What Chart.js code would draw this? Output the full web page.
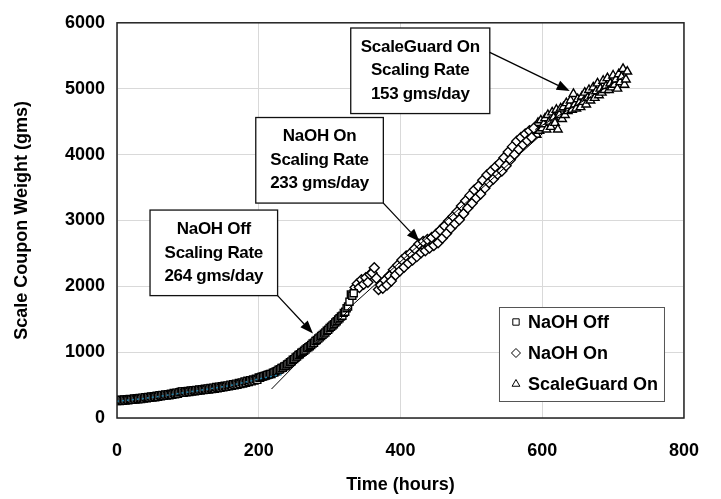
<!DOCTYPE html>
<html>
<head>
<meta charset="utf-8">
<script src="https://cdn.jsdelivr.net/npm/chart.js@4.4.1/dist/chart.umd.min.js"></script>
<style>
    html, body { margin: 0; padding: 0; background: #fff; }
</style>
</head>
<body>
<canvas id="chartCanvas" width="721" height="499"></canvas>
<script>
// 系列名稱
const seriesNames = ['NaOH Off', 'NaOH On', 'ScaleGuard On'];

// NaOH Off（每 2 小時）
const offHours = [0, 2, 4, 6, 8, 10, 12, 14, 16, 18, 20, 22, 24, 26, 28, 30, 32, 34, 36, 38,
    40, 42, 44, 46, 48, 50, 52, 54, 56, 58, 60, 62, 64, 66, 68, 70, 72, 74, 76, 78,
    80, 82, 84, 86, 88, 90, 92, 94, 96, 98, 100, 102, 104, 106, 108, 110, 112, 114, 116, 118,
    120, 122, 124, 126, 128, 130, 132, 134, 136, 138, 140, 142, 144, 146, 148, 150, 152, 154, 156, 158,
    160, 162, 164, 166, 168, 170, 172, 174, 176, 178, 180, 182, 184, 186, 188, 190, 192, 194, 196, 198,
    200, 202, 204, 206, 208, 210, 212, 214, 216, 218, 220, 222, 224, 226, 228, 230, 232, 234, 236, 238,
    240, 242, 244, 246, 248, 250, 252, 254, 256, 258, 260, 262, 264, 266, 268, 270, 272, 274, 276, 278,
    280, 282, 284, 286, 288, 290, 292, 294, 296, 298, 300, 302, 304, 306, 308, 310, 312, 314, 316, 318,
    320, 322, 324, 326, 328, 330, 332, 334];
const offWeight = [258, 272, 256, 276, 262, 280, 266, 285, 270, 289, 285, 275, 296, 281, 300, 285, 304, 290, 309, 294,
    316, 300, 320, 306, 326, 311, 331, 316, 337, 322, 346, 330, 351, 337, 356, 342, 362, 347, 368, 354,
    378, 362, 384, 369, 390, 398, 403, 384, 406, 390, 411, 396, 416, 401, 422, 406, 426, 412, 432, 417,
    438, 423, 443, 429, 449, 434, 454, 440, 460, 445, 472, 452, 476, 459, 482, 466, 488, 473, 495, 480,
    506, 488, 514, 497, 522, 506, 531, 515, 541, 525, 554, 536, 564, 547, 574, 557, 585, 568, 596, 580,
    614, 612, 626, 630, 638, 644, 654, 660, 668, 669, 686, 692, 708, 712, 731, 739, 758, 764, 784, 789,
    811, 824, 846, 859, 884, 894, 918, 934, 956, 969, 991, 1004, 1021, 1039, 1061, 1074, 1091, 1109, 1131, 1144,
    1171, 1184, 1206, 1224, 1246, 1262, 1281, 1299, 1326, 1339, 1366, 1384, 1406, 1424, 1451, 1469, 1496, 1514, 1541, 1554,
    1596, 1614, 1666, 1694, 1766, 1874, 1856, 1894];

// NaOH On（每 3 小時）
const onHours = [336, 339, 342, 345, 348, 351, 354, 357, 360, 363, 366, 369, 372, 375, 378, 381, 384, 387, 390, 393,
    396, 399, 402, 405, 408, 411, 414, 417, 420, 423, 426, 429, 432, 435, 438, 441, 444, 447, 450, 453,
    456, 459, 462, 465, 468, 471, 474, 477, 480, 483, 486, 489, 492, 495, 498, 501, 504, 507, 510, 513,
    516, 519, 522, 525, 528, 531, 534, 537, 540, 543, 546, 549, 552, 555, 558, 561, 564, 567, 570, 573,
    576, 579, 582, 585, 588];
const onWeight = [1980, 2040, 1980, 2100, 2030, 2130, 2060, 2180, 2200, 2280, 2120, 1950, 2020, 1970, 2090, 2020, 2160, 2080, 2250, 2170,
    2320, 2230, 2400, 2290, 2460, 2350, 2500, 2400, 2570, 2450, 2640, 2510, 2680, 2540, 2710, 2580, 2740, 2620, 2790, 2660,
    2850, 2730, 2920, 2800, 2990, 2880, 3060, 2950, 3130, 3010, 3220, 3100, 3300, 3190, 3380, 3260, 3460, 3340, 3520, 3400,
    3610, 3490, 3690, 3570, 3750, 3630, 3810, 3700, 3870, 3750, 3950, 3830, 4040, 3920, 4120, 4000, 4200, 4080, 4260, 4150,
    4310, 4210, 4360, 4260, 4400];

// ScaleGuard On（每 2 小時）
const sgHours = [590, 592, 594, 596, 598, 600, 602, 604, 606, 608, 610, 612, 614, 616, 618, 620, 622, 624, 626, 628,
    630, 632, 634, 636, 638, 640, 642, 644, 646, 648, 650, 652, 654, 656, 658, 660, 662, 664, 666, 668,
    670, 672, 674, 676, 678, 680, 682, 684, 686, 688, 690, 692, 694, 696, 698, 700, 702, 704, 706, 708,
    710, 712, 714, 716, 718, 720];
const sgWeight = [4420, 4300, 4480, 4360, 4520, 4400, 4460, 4550, 4380, 4600, 4500, 4420, 4640, 4560, 4480, 4680, 4380, 4600, 4700, 4540,
    4720, 4600, 4780, 4660, 4740, 4820, 4680, 4920, 4760, 4700, 4840, 4780, 4720, 4880, 4800, 4940, 4760, 4860, 4980, 4820,
    4900, 5020, 4860, 4960, 5080, 4900, 5000, 4940, 5120, 4980, 5040, 5160, 4980, 5080, 5020, 5200, 5060, 5140, 5000, 5220,
    5100, 5180, 5300, 5060, 5140, 5260];

// 早期點線（藍綠色）
const dotHours = [0, 40, 80, 120, 160, 200, 232];
const dotWeight = [255, 300, 362, 425, 495, 592, 662];

// 趨勢線（起點、終點）
const fitOffHours = [218, 330];
const fitOffWeight = [440, 1670];
const fitOnHours = [325, 600];
const fitOnWeight = [1645, 4315];
const fitSgHours = [590, 720];
const fitSgWeight = [4380, 5210];

// 座標軸刻度
const xTicks = [0, 200, 400, 600, 800];
const yTicks = [0, 1000, 2000, 3000, 4000, 5000, 6000];

// 標註文字與位置（資料座標）
const noteLines = [
    ['NaOH Off', 'Scaling Rate', '264 gms/day'],
    ['NaOH On', 'Scaling Rate', '233 gms/day'],
    ['ScaleGuard On', 'Scaling Rate', '153 gms/day']
];
const noteBoxes = [
    { x0: 46.6, x1: 226.6, y0: 3157, y1: 1858 },
    { x0: 195.8, x1: 375.8, y0: 4562, y1: 3263 },
    { x0: 329.8, x1: 526, y0: 5921, y1: 4622 }
];
const noteArrows = [
    { fx: 226.6, fy: 1858, tx: 276.5, ty: 1284 },
    { fx: 375.8, fy: 3263, tx: 426.8, ty: 2678 },
    { fx: 526, fy: 5550, tx: 638.8, ty: 4965 }
];

const pointStyles = ['rect', 'rectRot', 'triangle'];
const FONT = '"Liberation Sans", Arial, sans-serif';

function toPoints(xs, ys) {
    return xs.map((x, i) => ({ x: x, y: ys[i] }));
}

function markerSet(label, xs, ys, style) {
    return {
        type: 'scatter',
        label: label,
        data: toPoints(xs, ys),
        pointStyle: style,
        pointRadius: 5,
        pointBorderWidth: 1.4,
        pointBorderColor: '#000',
        pointBackgroundColor: '#fff',
        showLine: false,
        order: 2
    };
}

function lineSet(xs, ys, color, dash, width) {
    return {
        type: 'line',
        label: '',
        data: toPoints(xs, ys),
        borderColor: color,
        borderWidth: width,
        borderDash: dash,
        pointRadius: 0,
        cubicInterpolationMode: 'monotone',
        fill: false,
        order: 0
    };
}

// 畫箭頭
function drawArrow(ctx, x1, y1, x2, y2) {
    const ang = Math.atan2(y2 - y1, x2 - x1);
    const len = 13, half = 5;
    const c = Math.cos(ang), s = Math.sin(ang);
    ctx.beginPath();
    ctx.moveTo(x1, y1);
    ctx.lineTo(x2 - c * len, y2 - s * len);
    ctx.stroke();
    ctx.beginPath();
    ctx.moveTo(x2, y2);
    ctx.lineTo(x2 - c * len + s * half, y2 - s * len - c * half);
    ctx.lineTo(x2 - c * len - s * half, y2 - s * len + c * half);
    ctx.closePath();
    ctx.fill();
}

// 外框、標註方塊與圖例
const decorPlugin = {
    id: 'decor',
    afterDatasetsDraw(chart) {
        const ctx = chart.ctx;
        const area = chart.chartArea;
        const xs = chart.scales.x, ys = chart.scales.y;
        ctx.save();

        // 繪圖區外框
        ctx.strokeStyle = '#222';
        ctx.lineWidth = 1.5;
        ctx.strokeRect(area.left, area.top, area.right - area.left, area.bottom - area.top);

        // 標註
        ctx.font = 'bold 17px ' + FONT;
        ctx.textAlign = 'center';
        ctx.textBaseline = 'middle';
        if ('letterSpacing' in ctx) ctx.letterSpacing = '-0.3px';
        noteBoxes.forEach((b, i) => {
            const l = xs.getPixelForValue(b.x0), r = xs.getPixelForValue(b.x1);
            const t = ys.getPixelForValue(b.y0), btm = ys.getPixelForValue(b.y1);
            ctx.fillStyle = '#fff';
            ctx.fillRect(l, t, r - l, btm - t);
            ctx.strokeStyle = '#111';
            ctx.lineWidth = 1.3;
            ctx.strokeRect(l, t, r - l, btm - t);
            ctx.fillStyle = '#000';
            const cx = (l + r) / 2, cy = (t + btm) / 2;
            noteLines[i].forEach((txt, k) => {
                ctx.fillText(txt, cx, cy + (k - 1) * 23.5);
            });
            const a = noteArrows[i];
            ctx.strokeStyle = '#000';
            ctx.lineWidth = 1.3;
            drawArrow(ctx, xs.getPixelForValue(a.fx), ys.getPixelForValue(a.fy),
                xs.getPixelForValue(a.tx), ys.getPixelForValue(a.ty));
        });
        if ('letterSpacing' in ctx) ctx.letterSpacing = '0px';

        // 圖例
        const lw = 165, lh = 94;
        const lx = area.right - 20 - lw, ly = area.bottom - 17 - lh;
        ctx.fillStyle = '#fff';
        ctx.fillRect(lx, ly, lw, lh);
        ctx.strokeStyle = '#555';
        ctx.lineWidth = 1;
        ctx.strokeRect(lx + 0.5, ly + 0.5, lw, lh);
        ctx.font = 'bold 18px ' + FONT;
        ctx.textAlign = 'left';
        ctx.textBaseline = 'middle';
        seriesNames.forEach((name, i) => {
            const yy = ly + 15 + i * 31;
            ctx.strokeStyle = '#000';
            ctx.fillStyle = '#fff';
            ctx.lineWidth = 1;
            Chart.helpers.drawPoint(ctx, { pointStyle: pointStyles[i], radius: 4.5, borderWidth: 1 }, lx + 17, yy);
            ctx.fillStyle = '#000';
            ctx.fillText(name, lx + 29, yy + 1);
        });
        ctx.restore();
    }
};

const tickFont = { family: FONT, size: 18, weight: 'bold' };

new Chart(document.getElementById('chartCanvas'), {
    data: {
        datasets: [
            lineSet(dotHours, dotWeight, '#1f7fa8', [2, 3], 1.5),
            lineSet(fitOffHours, fitOffWeight, '#000', [], 1),
            lineSet(fitOnHours, fitOnWeight, '#000', [], 1),
            lineSet(fitSgHours, fitSgWeight, '#000', [], 1),
            markerSet(seriesNames[0], offHours, offWeight, pointStyles[0]),
            markerSet(seriesNames[1], onHours, onWeight, pointStyles[1]),
            markerSet(seriesNames[2], sgHours, sgWeight, pointStyles[2])
        ]
    },
    options: {
        responsive: false,
        animation: false,
        layout: { padding: { top: 20, right: 19, left: 0, bottom: 0 } },
        plugins: {
            legend: { display: false },
            tooltip: { enabled: false }
        },
        scales: {
            x: {
                type: 'linear',
                min: 0,
                max: 800,
                afterBuildTicks: scale => { scale.ticks = xTicks.map(v => ({ value: v })); },
                afterFit: scale => { scale.height = 81; },
                grid: { color: '#d9d9d9', lineWidth: 1, drawTicks: false },
                border: { display: false },
                ticks: { color: '#000', font: tickFont, padding: 22, maxRotation: 0, callback: v => String(v) },
                title: {
                    display: true,
                    text: 'Time (hours)',
                    color: '#000',
                    font: tickFont,
                    padding: { top: 0, bottom: 3 }
                }
            },
            y: {
                type: 'linear',
                min: 0,
                max: 6000,
                afterBuildTicks: scale => { scale.ticks = yTicks.map(v => ({ value: v })); },
                afterFit: scale => { scale.width = 117; },
                grid: { color: '#d9d9d9', lineWidth: 1, drawTicks: false },
                border: { display: false },
                ticks: { color: '#000', font: tickFont, padding: 12, callback: v => String(v) },
                title: {
                    display: true,
                    text: 'Scale Coupon Weight (gms)',
                    color: '#000',
                    font: tickFont,
                    padding: { top: 11, bottom: 0 }
                }
            }
        }
    },
    plugins: [decorPlugin]
});
</script>
</body>
</html>
